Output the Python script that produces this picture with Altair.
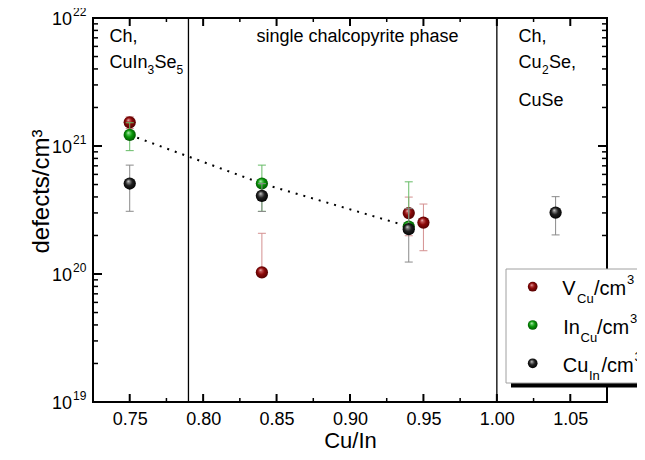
import altair as alt
import pandas as pd

# ---------------- data ----------------
x_ticks = [0.75, 0.80, 0.85, 0.90, 0.95, 1.00, 1.05]
x_minor = [0.775, 0.825, 0.875, 0.925, 0.975, 1.025]
phase_bounds = [0.79, 1.00]
y_decades = [1e19, 1e20, 1e21, 1e22]
y_exponents = ["19", "20", "21", "22"]
y_minor = [m * 10.0 ** e for e in (19, 20, 21) for m in range(2, 10)]

v_x = [0.75, 0.84, 0.94, 0.95]
v_val = [1.53e21, 1.03e20, 2.99e20, 2.52e20]
v_err = [0.16e21, 1.05e20, 1.0e20, 1.0e20]

in_x = [0.75, 0.84, 0.94]
in_val = [1.22e21, 5.09e20, 2.35e20]
in_err = [0.30e21, 2.0e20, 2.9e20]

cu_x = [0.75, 0.84, 0.94, 1.04]
cu_val = [5.09e20, 4.08e20, 2.24e20, 3.02e20]
cu_err = [2.0e20, 1.0e20, 1.0e20, 1.0e20]

# ---------------- layout ----------------
W, H = 514, 384
FONT = "Liberation Sans"
X_DOM = [0.725, 1.075]
Y_DOM = [1e19, 1e22]

x_scale = alt.Scale(domain=X_DOM, nice=False, zero=False)
y_scale = alt.Scale(type="log", domain=Y_DOM, nice=False)

x_axis = alt.Axis(values=x_ticks, format=".2f", labelFontSize=18, ticks=False,
                  domain=False, grid=False, labelPadding=8, title="Cu/In",
                  titleFontSize=22, titleFontWeight="normal", titlePadding=2,
                  labelColor="black", titleColor="black", labelFont=FONT, titleFont=FONT)
y_axis = alt.Axis(labels=False, ticks=False, domain=False, grid=False,
                  title="defects/cm³", titleFontSize=24, titleFontWeight="normal",
                  titlePadding=40, titleColor="black", titleY=173, titleFont=FONT)


def X(f):
    return alt.X(f"{f}:Q", scale=x_scale, axis=x_axis)


def Y(f):
    return alt.Y(f"{f}:Q", scale=y_scale, axis=y_axis)


dummy = pd.DataFrame({"d": [0]})


def series(xs, vals, errs):
    rows, caps = [], []
    for x, v, e in zip(xs, vals, errs):
        lo = v - e if v - e > 0 else v
        rows.append({"x": x, "v": v, "lo": lo, "hi": v + e})
        caps.append({"x": x, "cap": v + e})
        if v - e > 0:
            caps.append({"x": x, "cap": v - e})
    return pd.DataFrame(rows), pd.DataFrame(caps)


def grad(light, mid, dark):
    return alt.RadialGradient(
        gradient="radial",
        stops=[alt.GradientStop(color="#ffffff", offset=0),
               alt.GradientStop(color=light, offset=0.15),
               alt.GradientStop(color=mid, offset=0.5),
               alt.GradientStop(color=dark, offset=1)],
        x1=0.38, y1=0.3, r1=0, x2=0.5, y2=0.5, r2=0.55)


RED = grad("#c86060", "#8c0808", "#4a0000")
GREEN = grad("#70d070", "#089808", "#004a00")
BLACK = grad("#909090", "#202020", "#000000")

layers = []

# phase boundary lines
layers.append(alt.Chart(pd.DataFrame({"x": phase_bounds})).mark_rule(
    color="black", strokeWidth=1.3).encode(x=X("x")))

# ---- inward ticks on all four sides: tick geometry expressed in data units ----
PX_PER_DEC = H / 3.0            # log scale: pixels per decade
X_PER_PX = (X_DOM[1] - X_DOM[0]) / W


def xticks(vals, length, width):
    f = 10 ** (length / PX_PER_DEC)
    rows = []
    for t in vals:
        rows.append({"tx": t, "a": Y_DOM[0], "b": Y_DOM[0] * f})
        rows.append({"tx": t, "a": Y_DOM[1] / f, "b": Y_DOM[1]})
    return alt.Chart(pd.DataFrame(rows)).mark_rule(color="black", strokeWidth=width).encode(
        x=X("tx"), y=Y("a"), y2=alt.Y2("b"))


def yticks(vals, length, width):
    dx = length * X_PER_PX
    rows = []
    for t in vals:
        rows.append({"ty": t, "a": X_DOM[0], "b": X_DOM[0] + dx})
        rows.append({"ty": t, "a": X_DOM[1] - dx, "b": X_DOM[1]})
    return alt.Chart(pd.DataFrame(rows)).mark_rule(color="black", strokeWidth=width).encode(
        y=Y("ty"), x=X("a"), x2=alt.X2("b"))


layers += [xticks(x_ticks, 8, 2), xticks(x_minor, 4, 1.5),
           yticks(y_decades[1:3], 9, 2), yticks(y_minor, 5, 1.5)]

# y tick labels with superscripts
ylab = pd.DataFrame({"v": y_decades, "e": y_exponents})
layers.append(alt.Chart(ylab).mark_text(align="right", baseline="middle", fontSize=18,
                                        font=FONT, color="black", dy=2).encode(
    y=Y("v"), x=alt.value(-21), text=alt.value("10")))
layers.append(alt.Chart(ylab).mark_text(align="left", baseline="middle", fontSize=12,
                                        font=FONT, color="black", dy=-6).encode(
    y=Y("v"), x=alt.value(-20), text="e:N"))

# data series
v_df, v_caps = series(v_x, v_val, v_err)
in_df, in_caps = series(in_x, in_val, in_err)
cu_df, cu_caps = series(cu_x, cu_val, cu_err)

# dotted guide through In_Cu points
layers.append(alt.Chart(in_df).mark_line(color="black", strokeDash=[2, 6],
                                         strokeWidth=2).encode(x=X("x"), y=Y("v")))

for df, caps, ecol, fill in [(v_df, v_caps, "#d49090", RED),
                             (in_df, in_caps, "#66bb66", GREEN),
                             (cu_df, cu_caps, "#8a8a8a", BLACK)]:
    layers.append(alt.Chart(df).mark_rule(color=ecol, strokeWidth=1).encode(
        x=X("x"), y=Y("lo"), y2=alt.Y2("hi")))
    layers.append(alt.Chart(caps).mark_tick(color=ecol, orient="horizontal", size=8,
                                            thickness=1, opacity=1).encode(x=X("x"), y=Y("cap")))
    layers.append(alt.Chart(df).mark_circle(size=150, opacity=1, fill=fill,
                                            strokeWidth=0).encode(x=X("x"), y=Y("v")))


# text annotations
def txt(s, x, y, size=18, align="left"):
    return alt.Chart(dummy).mark_text(text=s, align=align, baseline="alphabetic",
                                      fontSize=size, font=FONT, color="black").encode(
        x=alt.value(x), y=alt.value(y))


layers += [
    txt("Ch,", 16.4, 24),
    txt("CuIn", 16.4, 50), txt("3", 54.5, 56, 12), txt("Se", 61.5, 50), txt("5", 83.5, 56, 12),
    txt("single chalcopyrite phase", 264.5, 24, 18, "center"),
    txt("Ch,", 425.6, 24),
    txt("Cu", 425.6, 50), txt("2", 449, 56, 12), txt("Se,", 456, 50),
    txt("CuSe", 425.6, 88),
]

# legend
layers.append(alt.Chart(dummy).mark_rect(fill="black").encode(
    x=alt.value(418), x2=alt.value(570), y=alt.value(256), y2=alt.value(369.5)))
layers.append(alt.Chart(dummy).mark_rect(fill="white", stroke="#a0a0a0", strokeWidth=1).encode(
    x=alt.value(413), x2=alt.value(566), y=alt.value(251), y2=alt.value(365)))
for yy, fill in [(268.7, RED), (307, GREEN), (345.3, BLACK)]:
    layers.append(alt.Chart(dummy).mark_circle(size=95, opacity=1, fill=fill, strokeWidth=0)
                  .encode(x=alt.value(439.7), y=alt.value(yy)))
layers += [
    txt("V", 469.3, 277, 20), txt("Cu", 484, 285.3, 13), txt("/cm", 501, 277, 20), txt("3", 534, 266, 13),
    txt("In", 470.3, 315.5, 20), txt("Cu", 487.5, 323.5, 13), txt("/cm", 504, 315.5, 20), txt("3", 537, 304.5, 13),
    txt("Cu", 469.7, 353.5, 20), txt("In", 496, 361.5, 13), txt("/cm", 508.5, 353.5, 20), txt("3", 541.5, 342.5, 13),
]

chart = alt.layer(*layers).properties(
    width=W, height=H,
    padding={"left": 85, "top": 10, "right": 30, "bottom": 50},
    autosize=alt.AutoSizeParams(type="none"),
    background="white",
).configure(font=FONT).configure_view(stroke="black", strokeWidth=2)

chart.save("out.html", embed_options={"renderer": "svg", "actions": False})
